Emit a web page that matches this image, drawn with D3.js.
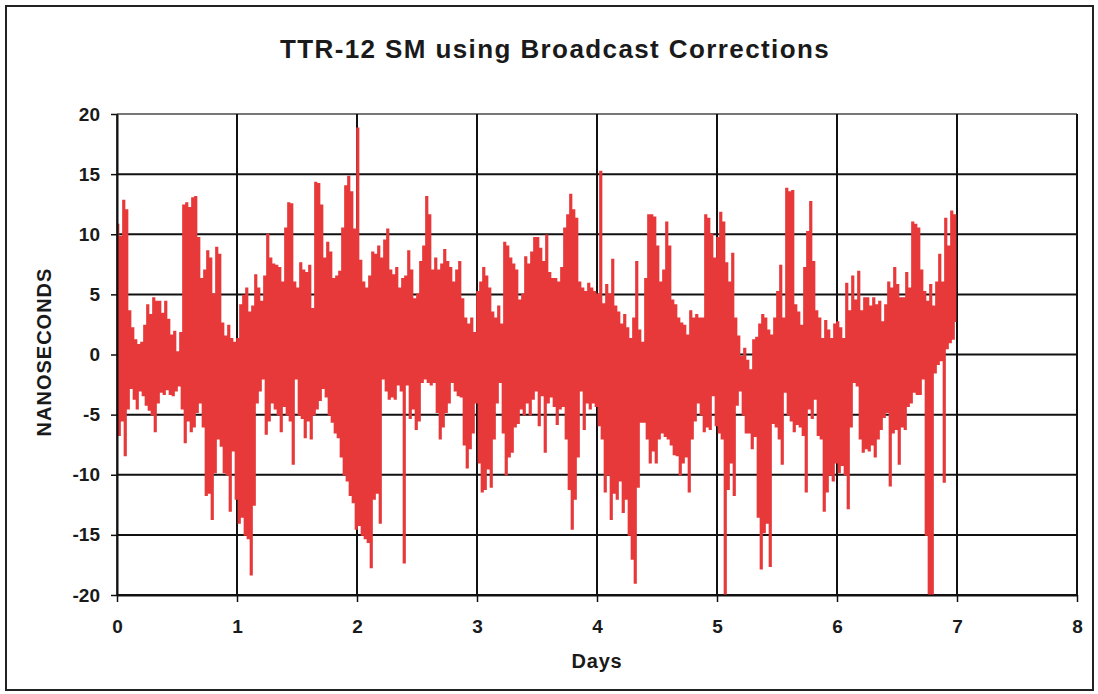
<!DOCTYPE html>
<html>
<head>
<meta charset="utf-8">
<script src="https://cdn.jsdelivr.net/npm/d3@7"></script>
<style>
  body { margin: 0; background: #fff; }
  svg { display: block; }
  text { font-family: "Liberation Sans", Arial, sans-serif; font-weight: bold; fill: #1a1a1a; }
</style>
</head>
<body>
<svg id="chart" width="1098" height="694"></svg>
<script>
// upper / lower envelope of the trace, one bin every 0.025 day
const day0Hi = [10.8,9.8,12.8,12.0,3.6,2.2,1.2,0.8,1.0,2.4, 4.1,3.3,4.7,4.4,4.4,3.4,4.4,2.9,1.6,1.9, 0.2,1.8,12.4,12.6,12.2,13.0,13.1,9.7,6.3,7.0, 8.6,8.0,5.0,8.9,8.3,2.6,1.5,2.4,1.3,1.0];
const day0Lo = [-6.7,-5.5,-8.4,-4.5,-2.8,-3.7,-4.5,-3.0,-3.4,-4.2, -4.6,-5.0,-6.4,-4.0,-3.1,-3.3,-2.9,-3.3,-3.4,-3.0, -2.6,-4.5,-7.3,-5.5,-6.4,-6.0,-4.8,-4.0,-6.0,-11.7, -11.5,-13.7,-9.8,-7.0,-7.6,-9.8,-10.0,-13.0,-8.0,-12.0];
const day1Hi = [1.3,4.1,4.9,5.5,3.5,4.0,6.6,5.5,4.4,6.5, 10.0,8.0,7.5,7.4,7.2,6.0,10.5,12.6,12.5,6.0, 5.5,7.6,7.0,6.8,7.4,3.8,14.3,14.2,12.4,8.0, 9.3,8.5,6.3,6.5,6.9,10.5,14.0,14.8,13.5,10.4];
const day1Lo = [-14.0,-13.5,-15.0,-15.3,-18.3,-12.5,-4.0,-3.0,-2.0,-6.6, -5.5,-4.0,-4.5,-5.0,-6.4,-4.3,-5.0,-5.5,-9.1,-2.0, -5.0,-5.3,-6.9,-5.5,-7.0,-5.0,-4.5,-3.8,-2.8,-3.5, -5.0,-5.6,-6.5,-6.9,-8.5,-10.0,-10.5,-11.7,-12.3,-14.5];
const day2Hi = [18.8,7.8,6.0,5.5,6.5,8.5,8.3,9.0,8.0,9.5, 10.4,7.0,6.6,7.2,5.5,6.3,6.5,8.6,7.0,4.6, 5.0,7.7,9.0,13.1,11.6,7.0,8.0,7.0,7.5,8.7, 7.7,7.2,6.0,7.0,7.7,4.6,3.0,2.5,3.0,1.8];
const day2Lo = [-14.2,-15.0,-15.3,-15.6,-17.7,-12.0,-11.5,-14.0,-2.0,-3.0, -3.7,-3.5,-3.7,-2.5,-3.0,-17.3,-2.5,-5.3,-4.5,-6.2, -5.5,-2.3,-2.0,-2.3,-2.5,-2.3,-4.8,-7.0,-6.0,-4.8, -4.0,-2.3,-3.0,-3.4,-3.5,-7.5,-9.4,-7.8,-6.5,-4.0];
const day3Hi = [5.2,6.0,7.2,6.5,5.5,3.5,3.0,4.0,2.5,9.3, 9.0,8.0,7.5,7.0,4.5,5.0,8.1,7.5,8.5,9.7, 9.7,8.8,7.7,9.9,6.8,6.3,6.3,6.0,7.2,10.5, 11.6,13.3,12.0,11.3,6.0,5.5,5.2,5.9,5.5,5.2];
const day3Lo = [-9.0,-11.4,-11.2,-9.5,-11.0,-7.0,-4.0,-2.3,-6.5,-10.0, -8.5,-8.1,-6.0,-5.7,-4.5,-5.0,-4.0,-5.0,-3.7,-3.0, -5.9,-3.4,-8.1,-4.0,-3.5,-4.3,-5.8,-4.5,-4.3,-7.0, -11.2,-14.5,-12.0,-8.5,-3.0,-6.2,-4.0,-4.5,-4.0,-4.3];
const day4Hi = [5.0,15.2,4.2,5.8,5.0,7.9,4.0,3.5,2.5,3.3, 2.2,1.3,3.0,7.7,2.0,1.0,6.3,11.6,11.6,11.4, 9.0,6.0,7.0,11.0,9.0,4.5,4.1,3.0,2.6,2.4, 1.6,3.6,3.0,3.3,3.0,3.0,11.6,11.3,10.0,8.0];
const day4Lo = [-5.9,-7.0,-11.4,-10.0,-13.7,-11.5,-12.0,-10.5,-13.1,-12.0, -15.0,-17.0,-19.0,-11.0,-5.6,-5.6,-7.0,-9.0,-8.0,-9.0, -7.0,-6.5,-6.8,-7.0,-7.5,-8.3,-8.4,-10.0,-9.0,-8.5, -11.4,-7.0,-5.5,-4.0,-5.0,-6.4,-6.0,-6.2,-3.4,-5.9];
const day5Hi = [9.7,11.8,11.0,7.6,6.0,8.4,3.0,1.5,-0.2,0.5, -0.5,-1.3,1.2,1.4,2.5,3.3,3.0,2.0,1.6,3.0, 5.2,7.4,3.0,13.8,13.5,13.6,4.1,3.5,2.4,7.2, 10.2,12.7,7.7,3.6,3.0,1.3,2.8,2.0,1.3,2.5];
const day5Lo = [-6.5,-7.0,-20.0,-11.2,-9.0,-11.7,-4.2,-3.0,-5.0,-6.5, -6.5,-7.8,-6.8,-13.5,-17.8,-14.8,-14.0,-17.6,-5.7,-6.0, -7.0,-9.1,-3.1,-5.0,-5.5,-6.4,-5.8,-6.0,-6.7,-11.4, -4.5,-5.3,-3.7,-6.7,-7.0,-13.0,-11.4,-10.0,-10.5,-9.0];
const day6Hi = [2.7,2.2,1.3,5.9,3.6,6.5,4.5,6.9,3.6,4.7, 4.7,4.0,4.7,4.1,4.4,2.7,4.1,6.0,5.5,7.2, 5.8,4.7,4.7,6.8,5.5,11.0,10.8,10.5,7.0,5.2, 4.4,5.8,4.0,6.0,8.3,6.0,11.3,9.0,11.9,11.6];
const day6Lo = [-9.8,-9.2,-10.0,-12.8,-6.0,-2.3,-2.6,-7.0,-8.1,-7.8, -8.0,-7.5,-8.5,-7.0,-6.2,-5.2,-4.8,-10.9,-6.5,-6.2, -9.1,-6.0,-6.2,-4.3,-4.0,-3.1,-3.3,-3.3,-2.0,-15.0, -20.0,-20.0,-1.5,-0.8,-0.5,-10.6,0.5,1.0,1.3,2.7];

const xTicks = [0, 1, 2, 3, 4, 5, 6, 7, 8];
const yTicks = [-20, -15, -10, -5, 0, 5, 10, 15, 20];
const binStep = 0.025;

const svg = d3.select("#chart");

// frame round the whole picture
svg.append("rect")
  .attr("x", 6).attr("y", 6).attr("width", 1087).attr("height", 684)
  .attr("fill", "none").attr("stroke", "#222").attr("stroke-width", 2);

const marginLeft = 117, marginRight = 1077, marginTop = 114, marginBottom = 595;

const x = d3.scaleLinear().domain([0, 8]).range([marginLeft, marginRight]);
const y = d3.scaleLinear().domain([-20, 20]).range([marginBottom, marginTop]);

// grid
svg.append("g").selectAll("line")
  .data(yTicks)
  .join("line")
  .attr("x1", marginLeft).attr("x2", marginRight)
  .attr("y1", d => y(d)).attr("y2", d => y(d))
  .attr("stroke", d => d === 20 ? "#777" : "#111")
  .attr("stroke-width", 2);

svg.append("g").selectAll("line")
  .data(xTicks)
  .join("line")
  .attr("x1", d => x(d)).attr("x2", d => x(d))
  .attr("y1", marginTop).attr("y2", marginBottom)
  .attr("stroke", "#111")
  .attr("stroke-width", d => d === 0 ? 1.5 : 2);

// build the trace from the daily envelopes
const days = [[day0Hi, day0Lo], [day1Hi, day1Lo], [day2Hi, day2Lo], [day3Hi, day3Lo],
              [day4Hi, day4Lo], [day5Hi, day5Lo], [day6Hi, day6Lo]];
const points = [];
days.forEach(([hi, lo], d) => {
  hi.forEach((v, i) => {
    points.push({t: d + i * binStep, v: v});
    points.push({t: d + i * binStep + binStep / 2, v: lo[i]});
  });
});

// step curve -> vertical strokes, like the dense sampled record
const line = d3.line().curve(d3.curveStepAfter).x(d => x(d.t)).y(d => y(d.v));

svg.append("path")
  .datum(points)
  .attr("d", line)
  .attr("fill", "none")
  .attr("stroke", "#e8393a")
  .attr("stroke-width", 1.7)
  .attr("stroke-linejoin", "miter");

// axes
const yAxis = svg.append("g")
  .attr("transform", `translate(${marginLeft},0)`)
  .call(d3.axisLeft(y).tickValues(yTicks).tickFormat(d => String(d))
    .tickSize(6).tickPadding(11).tickSizeOuter(0));
const xAxis = svg.append("g")
  .attr("transform", `translate(0,${marginBottom})`)
  .call(d3.axisBottom(x).tickValues(xTicks).tickFormat(d => String(d))
    .tickSize(7).tickPadding(18).tickSizeOuter(0));

for (const g of [xAxis, yAxis]) {
  g.select(".domain").attr("stroke", "#111").attr("stroke-width", 2);
  g.selectAll(".tick line").attr("stroke", "#111").attr("stroke-width", 1.5);
  g.selectAll(".tick text")
    .attr("font-family", "Liberation Sans, Arial, sans-serif")
    .attr("font-size", 19).attr("font-weight", "bold").attr("fill", "#1a1a1a");
}

// titles
svg.append("text")
  .attr("x", 555).attr("y", 58)
  .attr("text-anchor", "middle")
  .attr("font-size", 26)
  .attr("letter-spacing", 1.4)
  .text("TTR-12 SM using Broadcast Corrections");

svg.append("text")
  .attr("x", 597).attr("y", 668)
  .attr("text-anchor", "middle")
  .attr("font-size", 20)
  .attr("letter-spacing", 0.8)
  .text("Days");

svg.append("text")
  .attr("transform", "translate(51,352) rotate(-90)")
  .attr("text-anchor", "middle")
  .attr("font-size", 20)
  .attr("letter-spacing", 1)
  .text("NANOSECONDS");
</script>
</body>
</html>
